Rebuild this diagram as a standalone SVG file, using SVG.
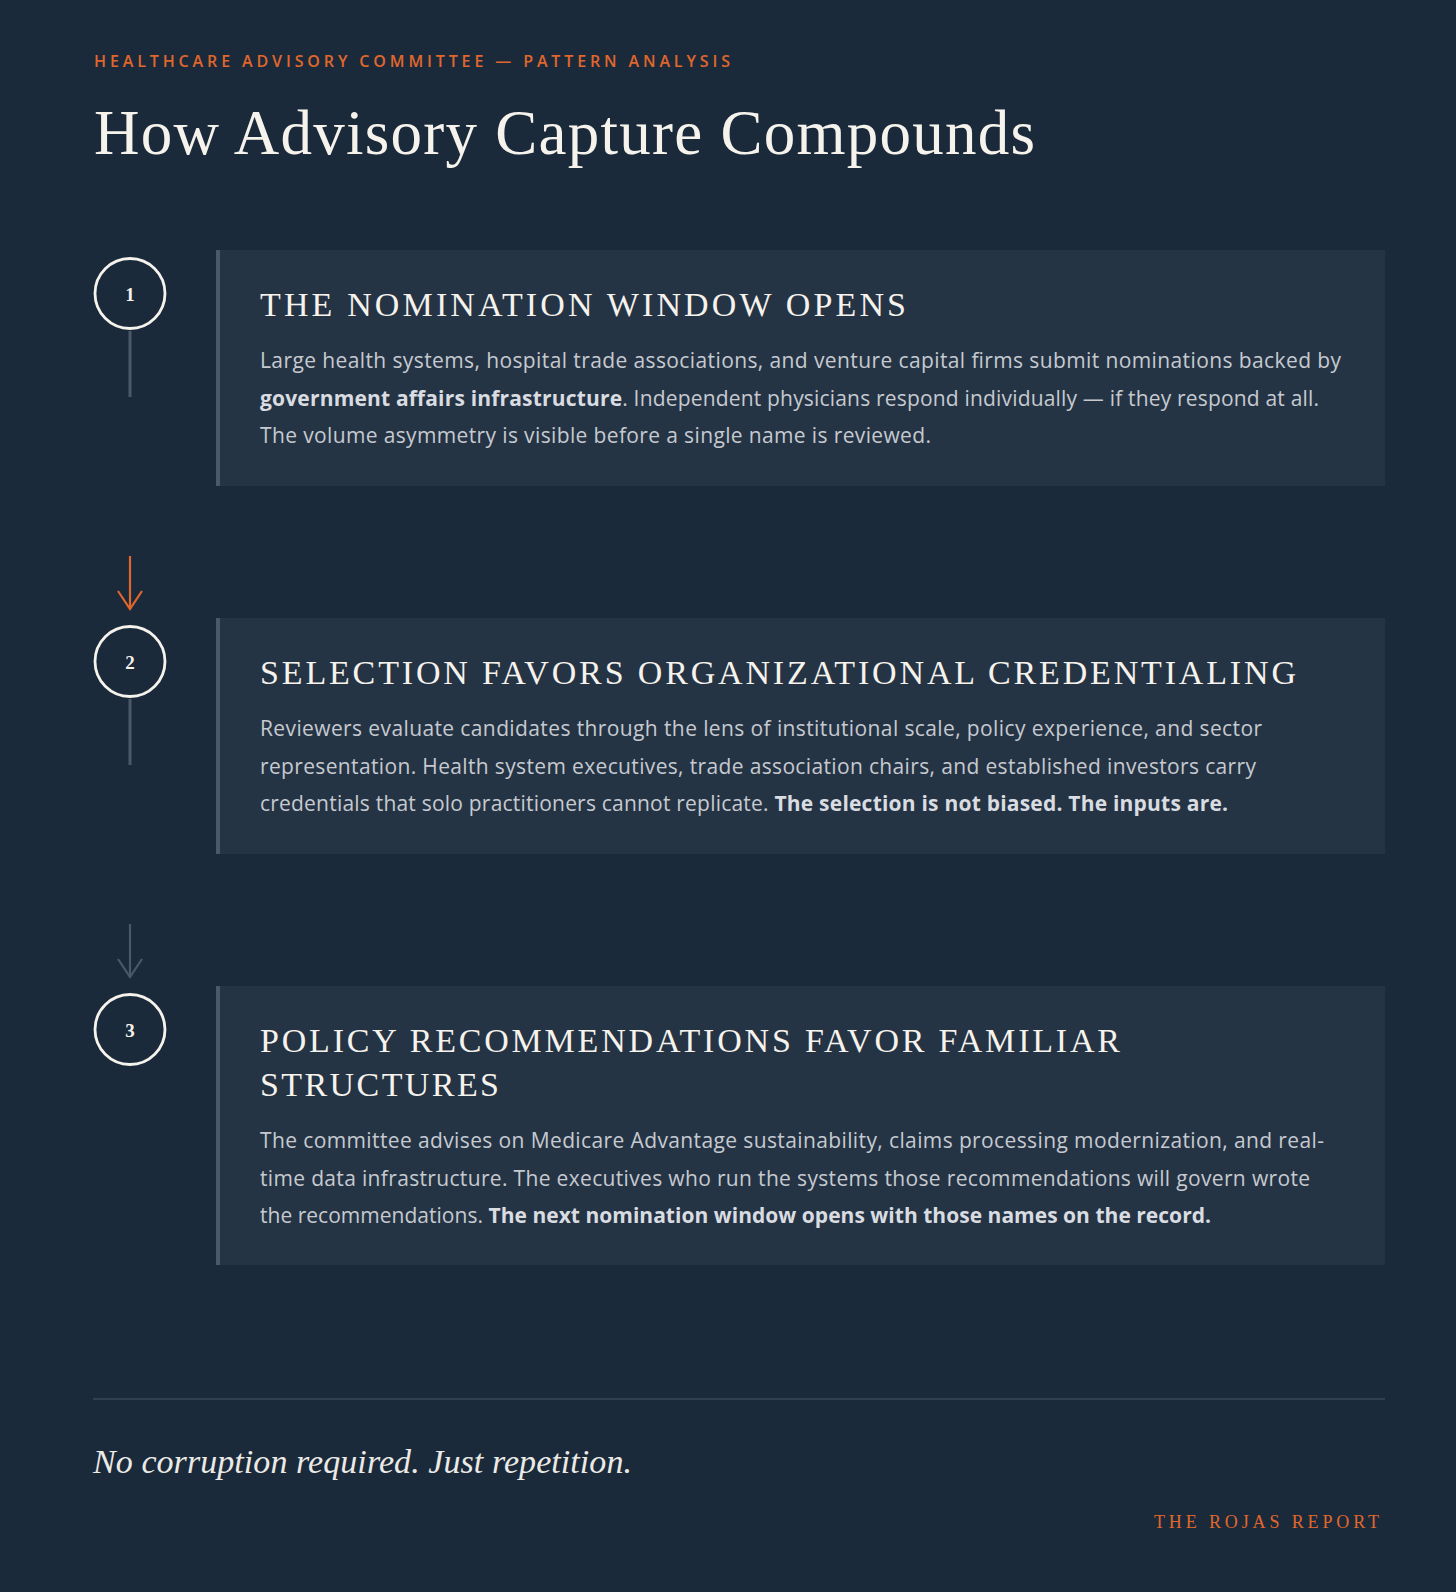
<svg xmlns="http://www.w3.org/2000/svg" width="1456" height="1592" viewBox="0 0 1456 1592">
<defs>
<style>
.bg{fill:#1b2a3b}
.card{fill:#253445}
.bar{fill:#4a5867}
.kicker{font-family:"Open Sans","Liberation Sans",sans-serif;font-weight:600;font-size:16px;fill:#e0672b;letter-spacing:3px}
.title{font-family:"Liberation Serif","DejaVu Serif",serif;font-size:63px;fill:#f6f2ec}
.ctitle{font-family:"Liberation Serif","DejaVu Serif",serif;font-size:34px;fill:#f6f2ec;letter-spacing:1px}
.body{font-family:"Open Sans","Liberation Sans",sans-serif;font-size:21px;fill:#c6cad0}
.b{font-weight:700;fill:#d9dce0}
.num{font-family:"Liberation Serif","DejaVu Serif",serif;font-size:19px;font-weight:700;fill:#f6f2ec;text-anchor:middle}
.ring{fill:none;stroke:#f6f2ec;stroke-width:2.8}
.stem{stroke:#4a5867;stroke-width:3}
.quote{font-family:"Liberation Serif","DejaVu Serif",serif;font-style:italic;font-size:34px;fill:#eceae6}
.brand{font-family:"Liberation Serif","DejaVu Serif",serif;font-size:18px;fill:#e0672b;letter-spacing:4px}
</style>
</defs>
<rect class="bg" x="0" y="0" width="1456" height="1592"/>

<g id="header">
<text class="kicker" x="94" y="67" textLength="639" lengthAdjust="spacing">HEALTHCARE ADVISORY COMMITTEE — PATTERN ANALYSIS</text>
<text class="title" x="94" y="154" textLength="941" lengthAdjust="spacing">How Advisory Capture Compounds</text>
</g>

<g id="connectors">
<line class="stem" x1="130" y1="331" x2="130" y2="397"/>
<line class="stem" x1="130" y1="699" x2="130" y2="765"/>
<g fill="none" stroke="#e0672b" stroke-width="2.2" stroke-linecap="butt">
<line x1="130" y1="556" x2="130" y2="609"/>
<polyline points="118,591 130,609 142,591"/>
</g>
<g fill="none" stroke="#4a5867" stroke-width="2.2">
<line x1="130" y1="924" x2="130" y2="977"/>
<polyline points="118,959 130,977 142,959"/>
</g>
</g>

<g id="step1">
<circle class="ring" cx="130" cy="293.5" r="35"/>
<text class="num" x="130" y="301">1</text>
<rect class="card" x="216" y="250" width="1169" height="236"/>
<rect class="bar" x="216" y="250" width="4" height="236"/>
<text class="ctitle" x="260" y="316" textLength="647" lengthAdjust="spacing">THE NOMINATION WINDOW OPENS</text>
<text class="body" x="260" y="368" textLength="1081" lengthAdjust="spacing">Large health systems, hospital trade associations, and venture capital firms submit nominations backed by</text>
<text class="body" x="260" y="405.5" textLength="1059" lengthAdjust="spacing"><tspan class="b">government affairs infrastructure</tspan>. Independent physicians respond individually — if they respond at all.</text>
<text class="body" x="260" y="443" textLength="671" lengthAdjust="spacing">The volume asymmetry is visible before a single name is reviewed.</text>
</g>

<g id="step2">
<circle class="ring" cx="130" cy="661.5" r="35"/>
<text class="num" x="130" y="669">2</text>
<rect class="card" x="216" y="618" width="1169" height="236"/>
<rect class="bar" x="216" y="618" width="4" height="236"/>
<text class="ctitle" x="260" y="684" textLength="1037" lengthAdjust="spacing">SELECTION FAVORS ORGANIZATIONAL CREDENTIALING</text>
<text class="body" x="260" y="736" textLength="1002" lengthAdjust="spacing">Reviewers evaluate candidates through the lens of institutional scale, policy experience, and sector</text>
<text class="body" x="260" y="773.5" textLength="996" lengthAdjust="spacing">representation. Health system executives, trade association chairs, and established investors carry</text>
<text class="body" x="260" y="811" textLength="968" lengthAdjust="spacing">credentials that solo practitioners cannot replicate. <tspan class="b">The selection is not biased. The inputs are.</tspan></text>
</g>

<g id="step3">
<circle class="ring" cx="130" cy="1029.5" r="35"/>
<text class="num" x="130" y="1037">3</text>
<rect class="card" x="216" y="986" width="1169" height="279"/>
<rect class="bar" x="216" y="986" width="4" height="279"/>
<text class="ctitle" x="260" y="1052" textLength="861" lengthAdjust="spacing">POLICY RECOMMENDATIONS FAVOR FAMILIAR</text>
<text class="ctitle" x="260" y="1096" textLength="240" lengthAdjust="spacing">STRUCTURES</text>
<text class="body" x="260" y="1148" textLength="1064" lengthAdjust="spacing">The committee advises on Medicare Advantage sustainability, claims processing modernization, and real-</text>
<text class="body" x="260" y="1185.5" textLength="1050" lengthAdjust="spacing">time data infrastructure. The executives who run the systems those recommendations will govern wrote</text>
<text class="body" x="260" y="1223" textLength="951" lengthAdjust="spacing">the recommendations. <tspan class="b">The next nomination window opens with those names on the record.</tspan></text>
</g>

<g id="footer">
<line x1="93" y1="1399" x2="1385" y2="1399" stroke="#3a4959" stroke-width="1.5"/>
<text class="quote" x="93" y="1473" textLength="539" lengthAdjust="spacing">No corruption required. Just repetition.</text>
<text class="brand" x="1154" y="1528" textLength="229" lengthAdjust="spacing">THE ROJAS REPORT</text>
</g>
</svg>
